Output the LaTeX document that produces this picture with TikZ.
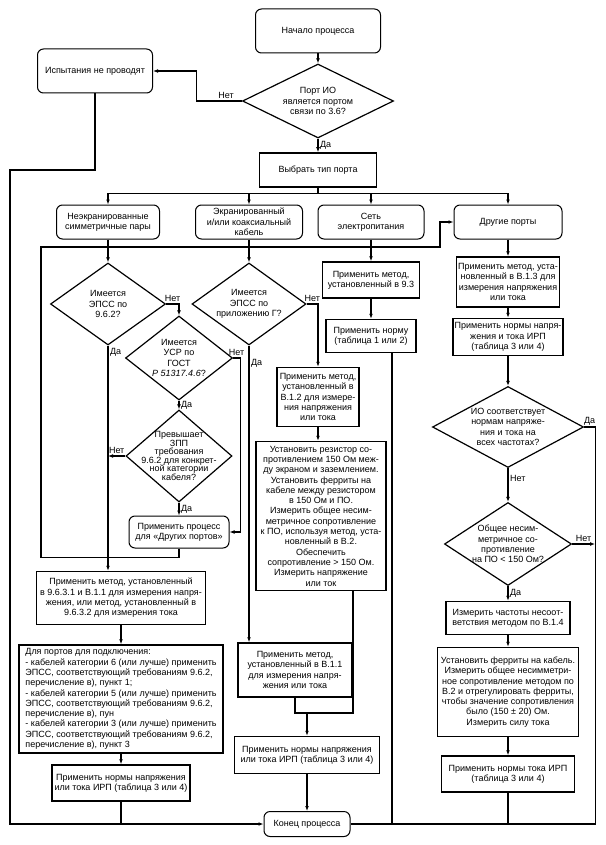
\documentclass[tikz,border=0pt]{standalone}
\usepackage{fontspec}
\setmainfont{Liberation Sans}
\usetikzlibrary{shapes.geometric}
\usetikzlibrary{arrows.meta}
\usetikzlibrary{calc}

\tikzset{
  every node/.style={font=\fontsize{9}{10.3}\selectfont},
  rbox/.style={draw, rounded corners=6pt, line width=1pt, align=center, inner sep=1pt},
  pbox/.style={draw, line width=1.5pt, align=center, inner sep=1pt},
  decision/.style={draw, diamond, line width=1.2pt, align=center, inner sep=-40pt},
  wire/.style={line width=1.1pt},
  flow/.style={wire, -{Latex[length=5pt,width=3.8pt]}},
  lbl/.style={inner sep=1.5pt},
}

\begin{document}
\begin{tikzpicture}[x=1pt,y=-1pt]
\useasboundingbox (0,0) rectangle (605,845);
\fill[white] (0,0) rectangle (605,845);

\node[rbox, minimum width=125, minimum height=44] (start) at (318,31) {Начало процесса};
\node[decision, minimum width=151, minimum height=74] (q0) at (318,101) {Порт ИО\\является портом\\связи по 3.6?};
\node[rbox, minimum width=115, minimum height=44] (notest) at (95,71) {Испытания не проводят};
\node[pbox, minimum width=117, minimum height=34] (select) at (318,170) {Выбрать тип порта};

% типы портов
\node[rbox, minimum width=103, minimum height=34] (p1) at (108,222) {Неэкранированные\\симметричные пары};
\node[rbox, minimum width=107, minimum height=34] (p2) at (249,222) {Экранированный\\и/или коаксиальный\\кабель};
\node[rbox, minimum width=106, minimum height=34] (p3) at (371,222) {Сеть\\электропитания};
\node[rbox, minimum width=108, minimum height=34] (p4) at (508,222) {Другие порты};

% неэкранированные пары
\node[decision, minimum width=115, minimum height=82] (qa) at (108,304) {Имеется\\ЭПСС по\\9.6.2?};
\node[decision, minimum width=107, minimum height=84] (qb) at (179,358) {Имеется\\УСР по\\ГОСТ\\\textit{Р 51317.4.6}?};
\node[decision, minimum width=106, minimum height=92, font=\fontsize{9}{8.6}\selectfont] (qc) at (179,456) {Превышает\\ЗПП\\требования\\9.6.2 для конкрет-\\ной категории\\кабеля?};
\node[rbox, minimum width=100, minimum height=32] (other) at (179,532) {Применить процесс\\для «Других портов»};
\node[pbox, minimum width=169, minimum height=53] (m1) at (121,598) {Применить метод, установленный\\в 9.6.3.1 и В.1.1 для измерения напря-\\жения, или метод, установленный в\\9.6.3.2 для измерения тока};
\node[pbox, minimum width=204, minimum height=108, align=left] (cat) at (121,699) {Для портов для подключения:\\- кабелей категории 6 (или лучше) применить\\ЭПСС, соответствующий требованиям 9.6.2,\\перечисление в), пункт 1;\\- кабелей категории 5 (или лучше) применить\\ЭПСС, соответствующий требованиям 9.6.2,\\перечисление в), пун\\- кабелей категории 3 (или лучше) применить\\ЭПСС, соответствующий требованиям 9.6.2,\\перечисление в), пункт 3};
\node[pbox, minimum width=138, minimum height=36] (n1) at (121,783) {Применить нормы напряжения\\или тока ИРП (таблица 3 или 4)};

% экранированный кабель
\node[decision, minimum width=114, minimum height=82] (qd) at (249,304) {Имеется\\ЭПСС по\\приложению Г?};
\node[pbox, minimum width=82, minimum height=59] (m2) at (318,397) {Применить метод,\\установленный в\\В.1.2 для измере-\\ния напряжения\\или тока};
\node[pbox, minimum width=130, minimum height=149] (res) at (321,516) {Установить резистор со-\\противлением 150 Ом меж-\\ду экраном и заземлением.\\Установить ферриты на\\кабеле между резистором\\в 150 Ом и ПО.\\Измерить общее несим-\\метричное сопротивление\\к ПО, используя метод, уста-\\новленный в В.2.\\Обеспечить\\сопротивление > 150 Ом.\\Измерить напряжение\\или ток};
\node[pbox, minimum width=114, minimum height=54] (m3) at (295,670) {Применить метод,\\установленный в В.1.1\\для измерения напря-\\жения или тока};
\node[pbox, minimum width=145, minimum height=37] (n2) at (307,755) {Применить нормы напряжения\\или тока ИРП (таблица 3 или 4)};
\node[rbox, minimum width=86, minimum height=25] (end) at (307,824) {Конец процесса};

% сеть электропитания
\node[pbox, minimum width=97, minimum height=36] (m4) at (371,280) {Применить метод,\\установленный в 9.3};
\node[pbox, minimum width=90, minimum height=33] (n3) at (371,336) {Применить норму\\(таблица 1 или 2)};

% другие порты
\node[pbox, minimum width=103, minimum height=50] (m5) at (508,282) {Применить метод, уста-\\новленный в В.1.3 для\\измерения напряжения\\или тока};
\node[pbox, minimum width=110, minimum height=37] (n4) at (508,337) {Применить нормы напря-\\жения и тока ИРП\\(таблица 3 или 4)};
\node[decision, minimum width=151, minimum height=81] (qe) at (508,427) {ИО соответствует\\нормам напряже-\\ния и тока на\\всех частотах?};
\node[decision, minimum width=127, minimum height=83] (qf) at (508,544) {Общее несим-\\метричное со-\\противление\\на ПО < 150 Ом?};
\node[pbox, minimum width=124, minimum height=33] (m6) at (508,618) {Измерить частоты несоот-\\ветствия методом по В.1.4};
\node[pbox, minimum width=141, minimum height=89] (fer) at (508,692) {Установить ферриты на кабель.\\Измерить общее несимметри-\\ное сопротивление методом по\\В.2 и отрегулировать ферриты,\\чтобы значение сопротивления\\было (150 ± 20) Ом.\\Измерить силу тока};
\node[pbox, minimum width=133, minimum height=36] (n5) at (508,774) {Применить нормы тока ИРП\\(таблица 3 или 4)};

% начало
\draw[flow] (start.south) -- (q0.north);
\draw[flow] (q0.west) -- node[lbl, above, pos=0.35] {Нет} ++(-45,0) |- (notest.east);
\draw[flow] (q0.south) -- node[lbl, right] {Да} (select.north);
\coordinate (outer) at (10,170);
\draw[flow] (notest.south) |- (outer) |- (end.west);

\draw[wire] (select.south) -- ++(0,6) coordinate (bus);
\foreach \p in {p1,p2,p3,p4}
  \draw[flow] (bus) -| (\p.north);

% неэкранированные пары
\draw[flow] (p1.south) -- (qa.north);
\draw[flow] (qa.east) -- node[lbl, above] {Нет} (qa.east -| qb.north) -- (qb.north);
\draw[flow] (qb.east) -- node[lbl, above] {Нет} ++(7,0) |- (other.east);
\draw[flow] (qb.south) -- node[lbl, right] {Да} (qc.north);
\draw[flow] (qc.west) -- node[lbl, above] {Нет} (qc.west -| qa.south);
\draw[flow] (qc.south) -- node[lbl, right] {Да} (other.north);
\coordinate (loop) at (41,247);
\draw[flow] (other.south) -- ++(0,9) -| (loop) -- ++(399,0) |- (p4.west);
\draw[flow] (qa.south) -- node[lbl, right, pos=0.03] {Да} (qa.south |- m1.north);
\draw[flow] (m1.south) -- (cat.north);
\draw[flow] (cat.south) -- (n1.north);
\draw[wire] (n1.south) -- (n1.south |- end.west);

% экранированный кабель
\draw[flow] (p2.south) -- (qd.north);
\draw[flow] (qd.east) -- node[lbl, above] {Нет} (qd.east -| m2.north) -- (m2.north);
\draw[flow] (m2.south) -- (m2.south |- res.north);
\draw[flow] (qd.south) -- node[lbl, right, pos=0.06] {Да} (qd.south |- m3.north);
\coordinate (merge) at (307,713);
\draw[wire] (m3.south) |- (merge);
\draw[wire] ([xshift=32pt]res.south) |- (merge);
\draw[flow] (merge) -- (n2.north);
\draw[flow] (n2.south) -- (end.north);

% сеть электропитания
\draw[flow] (p3.south) -- (m4.north);
\draw[flow] (m4.south) -- (n3.north);
\draw[wire] ([xshift=21pt]n3.south) -- ([xshift=21pt]n3.south |- end.east);

% другие порты
\draw[flow] (p4.south) -- (m5.north);
\draw[flow] (m5.south) -- (n4.north);
\draw[flow] (n4.south) -- (qe.north);
\draw[wire] (qe.east) -- node[lbl, above] {Да} ++(11,0) coordinate (rgt) |- (end.east);
\draw[flow] (qe.south) -- node[lbl, right, pos=0.3] {Нет} (qf.north);
\draw[flow] (qf.east) -- node[lbl, above] {Нет} (qf.east -| rgt);
\draw[flow] (qf.south) -- node[lbl, right] {Да} (m6.north);
\draw[flow] (m6.south) -- (fer.north);
\draw[flow] (fer.south) -- (n5.north);
\draw[wire] (n5.south) -- (n5.south |- end.east);
\end{tikzpicture}
\end{document}
